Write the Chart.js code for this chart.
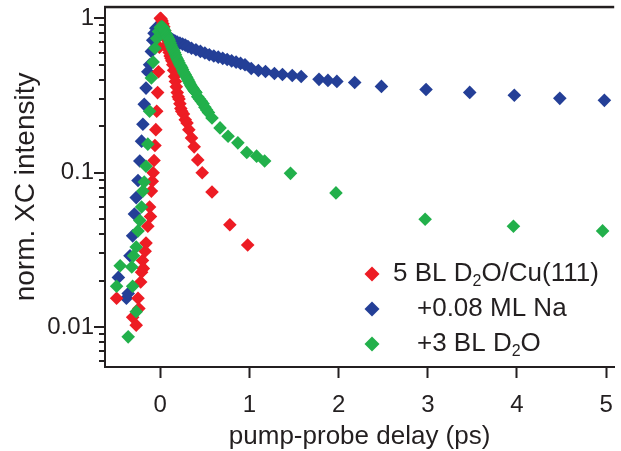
<!DOCTYPE html>
<html>
<head>
<meta charset="utf-8">
<script src="https://cdn.jsdelivr.net/npm/chart.js@4.4.1/dist/chart.umd.min.js"></script>
<style>
  html, body { margin: 0; padding: 0; background: #fff; }
</style>
</head>
<body>
<canvas id="chart" width="621" height="451"></canvas>
<script>
const ink = '#231f20';
const face = '"Liberation Sans", Arial, Helvetica, sans-serif';

// series names, "_2" marks a subscript digit
const seriesNames = ['5 BL D_2O/Cu(111)', '+0.08 ML Na', '+3 BL D_2O'];
const seriesColors = ['#ed1c24', '#243f97', '#22b04b'];

// 5 BL D2O/Cu(111)
const cuX = [-0.49, -0.31, -0.27, -0.25, -0.24, -0.22, -0.21, -0.2, -0.19, -0.17,
  -0.16, -0.14, -0.12, -0.11, -0.1, -0.09, -0.08, -0.07, -0.06, -0.05,
  -0.04, -0.03, -0.02, -0.01, 0, 0.01, 0.02, 0.03, 0.04, 0.05,
  0.06, 0.07, 0.08, 0.09, 0.1, 0.11, 0.12, 0.13, 0.14, 0.15,
  0.16, 0.17, 0.18, 0.19, 0.2, 0.21, 0.22, 0.23, 0.24,
  0.26, 0.28, 0.3, 0.32, 0.35, 0.38, 0.42, 0.47, 0.58, 0.78, 0.98];
const cuY = [0.0154, 0.0116, 0.0103, 0.0154, 0.0132, 0.0196, 0.0227, 0.027, 0.024, 0.031,
  0.035, 0.045, 0.06, 0.052, 0.076, 0.088, 0.1, 0.12, 0.15, 0.19,
  0.25, 0.33, 0.45, 0.65, 1.0, 0.99, 0.96, 0.92, 0.88, 0.83,
  0.78, 0.73, 0.68, 0.63, 0.6, 0.57, 0.55, 0.53, 0.5, 0.46,
  0.42, 0.39, 0.36, 0.33, 0.31, 0.3, 0.28, 0.26, 0.25,
  0.24, 0.22, 0.21, 0.19, 0.168, 0.147, 0.121, 0.1, 0.075, 0.046, 0.034];

// +0.08 ML Na
const naX = [-0.47, -0.38, -0.36, -0.34, -0.31, -0.29, -0.27, -0.25, -0.23, -0.21,
  -0.195, -0.18, -0.16, -0.14, -0.12, -0.1, -0.085, -0.07, -0.05, -0.03,
  -0.01, 0.01, 0.03, 0.05, 0.07, 0.09, 0.11, 0.13, 0.15, 0.17,
  0.19, 0.22, 0.25, 0.28, 0.31, 0.35, 0.4, 0.45, 0.5, 0.55,
  0.6, 0.65, 0.7, 0.75, 0.8, 0.85, 0.9, 0.95, 1.02, 1.1,
  1.18, 1.28, 1.37, 1.48, 1.58, 1.78, 1.88, 1.98, 2.18, 2.48,
  2.98, 3.47, 3.97, 4.48, 4.98];
const naY = [0.021, 0.0154, 0.0165, 0.029, 0.039, 0.054, 0.069, 0.089, 0.119, 0.16,
  0.206, 0.277, 0.353, 0.45, 0.5, 0.61, 0.72, 0.8, 0.86, 0.88,
  0.87, 0.86, 0.83, 0.8, 0.78, 0.76, 0.745, 0.73, 0.72, 0.71,
  0.7, 0.69, 0.68, 0.67, 0.655, 0.64, 0.625, 0.61, 0.595, 0.58,
  0.57, 0.56, 0.55, 0.54, 0.53, 0.52, 0.51, 0.5, 0.473, 0.459,
  0.452, 0.439, 0.432, 0.426, 0.42, 0.402, 0.396, 0.39, 0.384, 0.362,
  0.346, 0.331, 0.317, 0.303, 0.294];

// +3 BL D2O
const d2oX = [-0.49, -0.45, -0.36, -0.32, -0.31, -0.3, -0.27, -0.27, -0.25, -0.23,
  -0.21, -0.195, -0.18, -0.16, -0.14, -0.12, -0.1, -0.08, -0.06, -0.04,
  -0.02, 0, 0.01, 0.02, 0.03, 0.04, 0.05, 0.06, 0.07, 0.08,
  0.09, 0.1, 0.11, 0.12, 0.13, 0.14, 0.15, 0.16, 0.17, 0.18,
  0.19, 0.2, 0.21, 0.22, 0.23, 0.24, 0.25, 0.26, 0.27, 0.28,
  0.29, 0.3, 0.31, 0.32, 0.33, 0.34, 0.35, 0.36, 0.37, 0.38,
  0.39, 0.4, 0.42, 0.44, 0.46, 0.48, 0.5, 0.52, 0.54, 0.58,
  0.67, 0.76, 0.87, 0.97, 1.08, 1.17, 1.46, 1.97, 2.97, 3.96,
  4.96];
const d2oY = [0.0184, 0.025, 0.00865, 0.0245, 0.0184, 0.029, 0.0126, 0.033, 0.042, 0.049,
  0.06, 0.076, 0.087, 0.11, 0.153, 0.25, 0.41, 0.52, 0.64, 0.74,
  0.82, 0.87, 0.88, 0.88, 0.87, 0.85, 0.83, 0.8, 0.78, 0.76,
  0.74, 0.72, 0.695, 0.67, 0.65, 0.63, 0.615, 0.6, 0.58, 0.56,
  0.545, 0.53, 0.515, 0.5, 0.49, 0.48, 0.465, 0.45, 0.44, 0.43,
  0.42, 0.41, 0.4, 0.39, 0.38, 0.37, 0.362, 0.355, 0.348, 0.34,
  0.335, 0.33, 0.31, 0.3, 0.29, 0.28, 0.265, 0.255, 0.245, 0.226,
  0.195, 0.172, 0.156, 0.135, 0.128, 0.119, 0.099, 0.074, 0.05, 0.045,
  0.042];

const xTicks = [0, 1, 2, 3, 4, 5];
const yLabelled = [1, 0.1, 0.01];

const toPoints = (xs, ys) => xs.map((x, i) => ({ x: x, y: ys[i] }));
const isLabelled = v => yLabelled.some(l => Math.abs(l - v) < l * 1e-6);

function richText(ctx, text, x, y, size) {
  const parts = text.split(/_(\d)/);
  parts.forEach((p, i) => {
    if (i % 2) {
      ctx.font = Math.round(size * 0.6) + 'px ' + face;
      ctx.fillText(p, x, y + size * 0.3);
    } else {
      ctx.font = size + 'px ' + face;
      ctx.fillText(p, x, y);
    }
    x += ctx.measureText(p).width;
  });
}

// top frame line + log ticks on the left axis
const framePlugin = {
  id: 'frame',
  afterDraw(chart) {
    const { ctx, chartArea } = chart;
    const y = chart.scales.y;
    ctx.save();
    ctx.fillStyle = ink;
    ctx.fillRect(chartArea.left - 1, chartArea.top - 1, chartArea.right - chartArea.left + 1, 2.5);
    y.ticks.forEach(t => {
      const py = Math.round(y.getPixelForValue(t.value));
      const len = isLabelled(t.value) ? 11 : 6;
      ctx.fillRect(chartArea.left - len, py - 1, len, 2);
    });
    ctx.restore();
  }
};

const legendPlugin = {
  id: 'diamondLegend',
  afterDraw(chart) {
    const { ctx, chartArea } = chart;
    ctx.save();
    chart.data.datasets.forEach((ds, i) => {
      const cy = chartArea.bottom - 93 + i * 35;
      const cx = chartArea.left + 267;
      const r = 7.5;
      ctx.fillStyle = ds.backgroundColor;
      ctx.beginPath();
      ctx.moveTo(cx, cy - r);
      ctx.lineTo(cx + r, cy);
      ctx.lineTo(cx, cy + r);
      ctx.lineTo(cx - r, cy);
      ctx.closePath();
      ctx.fill();
      ctx.fillStyle = ink;
      ctx.textBaseline = 'middle';
      ctx.textAlign = 'left';
      richText(ctx, seriesNames[i], cx + (i === 0 ? 21 : 45), cy, 26);
    });
    ctx.restore();
  }
};

const sets = [[cuX, cuY, 1], [naX, naY, 2], [d2oX, d2oY, 0]];

new Chart(document.getElementById('chart'), {
  type: 'scatter',
  data: {
    datasets: sets.map((s, i) => ({
      label: seriesNames[i].replace('_', ''),
      data: toPoints(s[0], s[1]),
      backgroundColor: seriesColors[i],
      borderWidth: 0,
      pointStyle: 'rectRot',
      pointRadius: 6.8,
      order: s[2]
    }))
  },
  options: {
    responsive: false,
    animation: false,
    devicePixelRatio: 1,
    layout: { padding: { top: 5, left: 0, right: 0, bottom: 0 } },
    plugins: { legend: { display: false }, tooltip: { enabled: false } },
    scales: {
      x: {
        type: 'linear',
        min: -0.62,
        max: 5.09,
        afterFit(s) { s.height = 84; s.paddingLeft = 0; s.paddingRight = 0; },
        afterBuildTicks(s) { s.ticks = xTicks.map(v => ({ value: v })); },
        ticks: { color: ink, font: { family: face, size: 24 }, padding: 13, maxRotation: 0, autoSkip: false,
          callback: v => String(v) },
        grid: { display: true, drawOnChartArea: false, drawTicks: true, tickLength: 11, tickColor: ink, tickWidth: 2 },
        border: { display: true, color: ink, width: 2 },
        title: { display: true, text: 'pump-probe delay (ps)', color: ink,
          font: { family: face, size: 26, lineHeight: 1.1 }, padding: { top: 0, bottom: 0 } }
      },
      y: {
        type: 'logarithmic',
        min: 0.00552,
        max: 1.186,
        afterFit(s) { s.width = 105; s.paddingTop = 0; s.paddingBottom = 0; },
        afterBuildTicks(s) {
          const t = [];
          for (let e = -3; e <= 0; e++) {
            for (let m = 1; m <= 9; m++) {
              const v = m * Math.pow(10, e);
              if (v >= s.min && v <= s.max) t.push({ value: v });
            }
          }
          s.ticks = t;
        },
        ticks: { color: ink, font: { family: face, size: 24 }, padding: 11, autoSkip: false,
          callback: v => isLabelled(v) ? String(+v.toPrecision(3)) : '' },
        grid: { display: false, drawTicks: false },
        border: { display: true, color: ink, width: 2 },
        title: { display: true, text: 'norm. XC intensity', color: ink,
          font: { family: face, size: 28, lineHeight: 1.2 }, padding: { top: 9, bottom: 0 } }
      }
    }
  },
  plugins: [framePlugin, legendPlugin]
});
</script>
</body>
</html>
